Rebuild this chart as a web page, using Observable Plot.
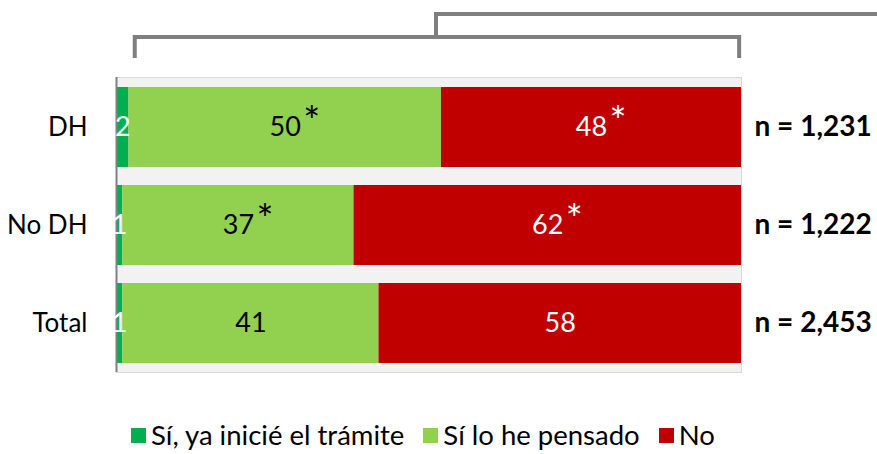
<!DOCTYPE html>
<html>
<head>
<meta charset="utf-8">
<script src="https://cdn.jsdelivr.net/npm/d3@7"></script>
<script src="https://cdn.jsdelivr.net/npm/@observablehq/plot@0.6"></script>
<style>
  html, body { margin: 0; padding: 0; background: #ffffff; }
  body { width: 877px; height: 454px; overflow: hidden; font-family: Lato, "Open Sans", sans-serif; }
  #legend { display: flex; align-items: center; margin-left: 131px; margin-top: 11px; height: 28px; font-size: 27.5px; line-height: 1; color: #000; }
  #legend .item { display: flex; align-items: center; margin-right: 19px; }
  #legend .sw { width: 15px; height: 15px; margin-right: 5px; }
</style>
</head>
<body>
<div id="chart"></div>
<div id="legend"></div>
<script>
const categories = ["DH", "No DH", "Total"];
const series = ["Sí, ya inicié el trámite", "Sí lo he pensado", "No"];
const siYaInicie = [2, 1, 1];
const siLoHePensado = [50, 37, 41];
const noValues = [48, 62, 58];
const sigSiPensado = [true, true, false];
const sigNo = [true, true, false];
const nLabels = ["n = 1,231", "n = 1,222", "n = 2,453"];
const colors = ["#00b050", "#92d050", "#c00000"];
const bracketSpan = [3, 99.7];
const bracketStub = 51.2;

const rows = [];
categories.forEach((cat, i) => {
  rows.push({cat, series: series[0], value: siYaInicie[i], sig: false, dark: true});
  rows.push({cat, series: series[1], value: siLoHePensado[i], sig: sigSiPensado[i], dark: false});
  rows.push({cat, series: series[2], value: noValues[i], sig: sigNo[i], dark: true});
});
const nRows = categories.map((cat, i) => ({cat, label: nLabels[i], total: siYaInicie[i] + siLoHePensado[i] + noValues[i]}));

const stackOpts = (extra) => Plot.stackX({x: "value", y: "cat", z: "series", ...extra});

const plot = Plot.plot({
  width: 877,
  height: 410,
  marginLeft: 116,
  marginRight: 136,
  marginTop: 77,
  marginBottom: 38,
  style: {fontFamily: "Lato, 'Open Sans', sans-serif", fontSize: "24px", overflow: "visible", background: "white"},
  x: {domain: [0, 100], axis: null},
  y: {domain: categories, paddingInner: 0.184, paddingOuter: 0.097, axis: null},
  color: {domain: series, range: colors},
  marks: [
    Plot.frame({fill: "#f2f2f2", stroke: "#d9d9d9", strokeWidth: 1}),
    Plot.barX(rows, stackOpts({fill: "series"})),
    Plot.ruleX([0], {stroke: "#808080", strokeWidth: 2}),
    Plot.axisY({tickSize: 0, tickPadding: 29, fontSize: 26, fill: "#000", label: null}),
    Plot.text(rows, stackOpts({text: d => d.dark ? String(d.value) : null, fill: "white", fontSize: 27})),
    Plot.text(rows, stackOpts({text: d => d.dark ? null : String(d.value), fill: "black", fontSize: 27})),
    Plot.text(rows, stackOpts({text: d => d.sig && d.dark ? "*" : null, fill: "white", fontSize: 40, textAnchor: "start", dx: 18, dy: -4})),
    Plot.text(rows, stackOpts({text: d => d.sig && !d.dark ? "*" : null, fill: "black", fontSize: 40, textAnchor: "start", dx: 18, dy: -4})),
    Plot.text(nRows, {x: "total", y: "cat", text: "label", textAnchor: "start", dx: 13, fontSize: 28, fontWeight: "bold", fill: "#000"})
  ]
});
document.getElementById("chart").appendChild(plot);

// bracket drawn in x-scale coordinates
const xs = plot.scale("x");
const svg = d3.select(plot);
const bx0 = xs.apply(bracketSpan[0]), bx1 = xs.apply(bracketSpan[1]), bs = xs.apply(bracketStub);
svg.append("path")
  .attr("d", `M${bx0},58V37H${bx1}V58`)
  .attr("fill", "none").attr("stroke", "#7f7f7f").attr("stroke-width", 4);
svg.append("path")
  .attr("d", `M${bs},37V14H877`)
  .attr("fill", "none").attr("stroke", "#7f7f7f").attr("stroke-width", 4);

// legend
const legend = d3.select("#legend");
series.forEach((s, i) => {
  const item = legend.append("div").attr("class", "item");
  item.append("div").attr("class", "sw").style("background", colors[i]);
  item.append("span").text(s);
});
</script>
</body>
</html>
